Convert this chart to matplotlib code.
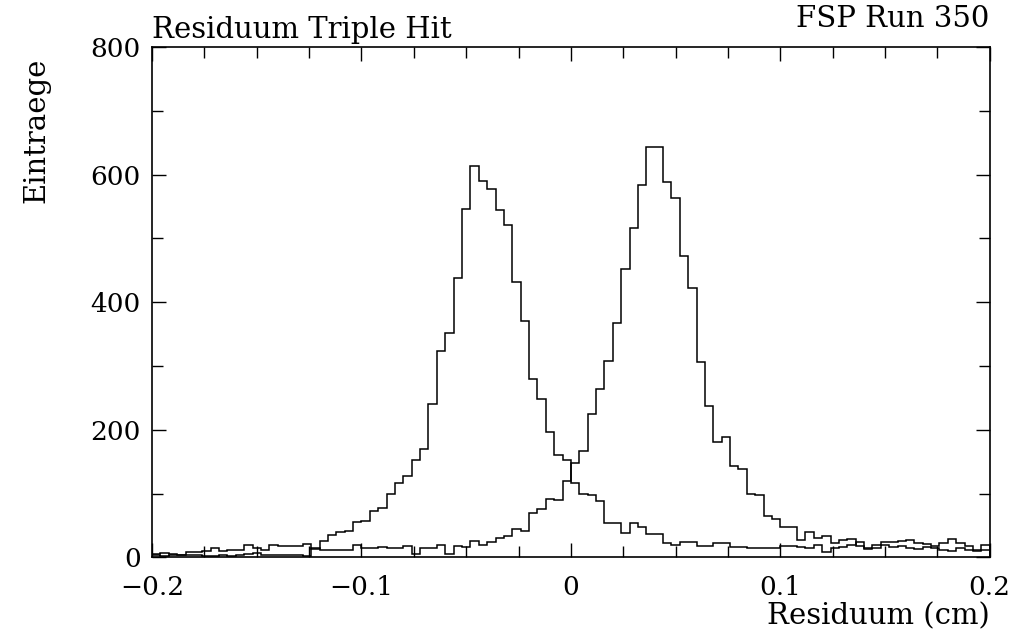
import numpy as np
import matplotlib

matplotlib.use("Agg")
import matplotlib.pyplot as plt
from matplotlib.ticker import MultipleLocator

# ── Data: 100 bins of width 0.004 cm between -0.2 and 0.2 ──────────
x_min, x_max, n_bins = -0.2, 0.2, 100

# peak near -0.045 cm
hist_left = [
    5, 6, 5, 4, 8, 9, 10, 14, 10, 12,
    11, 19, 15, 12, 20, 18, 18, 17, 21, 13,
    26, 35, 40, 42, 56, 57, 72, 77, 100, 116,
    127, 152, 170, 240, 324, 352, 438, 547, 614, 590,
    577, 545, 521, 432, 370, 279, 248, 196, 161, 152,
    116, 99, 98, 88, 54, 54, 38, 54, 47, 36,
    36, 23, 20, 24, 24, 17, 17, 23, 23, 16,
    16, 15, 14, 14, 14, 17, 18, 16, 15, 20,
    8, 14, 16, 20, 24, 14, 20, 24, 24, 25,
    27, 22, 21, 18, 22, 28, 23, 18, 12, 20,
]

# peak near +0.040 cm
hist_right = [
    3, 2, 3, 4, 4, 3, 2, 2, 3, 2,
    3, 5, 6, 3, 4, 3, 4, 4, 2, 14,
    12, 12, 12, 11, 20, 14, 14, 16, 15, 15,
    18, 5, 15, 15, 19, 5, 18, 16, 25, 19,
    24, 31, 33, 45, 42, 69, 76, 91, 90, 120,
    148, 167, 224, 264, 308, 367, 452, 516, 584, 644,
    644, 588, 564, 472, 422, 306, 238, 181, 188, 143,
    139, 99, 98, 64, 60, 47, 47, 27, 39, 30,
    33, 23, 27, 28, 18, 13, 15, 20, 16, 18,
    15, 13, 16, 14, 12, 10, 14, 12, 10, 12,
]

xtick_values = [-0.2, -0.1, 0.0, 0.1, 0.2]
xtick_labels = ["\u22120.2", "\u22120.1", "0", "0.1", "0.2"]
ytick_values = [0, 200, 400, 600, 800]
ytick_labels = ["0", "200", "400", "600", "800"]

FONT = "DejaVu Serif"
FS_TICK = 19
FS_TEXT = 21

plt.rcParams["font.family"] = FONT

fig = plt.figure(figsize=(10.14, 6.29), dpi=100)
ax = fig.add_axes([0.150, 0.114, 0.826, 0.811])

edges = np.linspace(x_min, x_max, n_bins + 1)
ax.stairs(hist_left, edges, color="black", lw=1.1)
ax.stairs(hist_right, edges, color="black", lw=1.1)

ax.set_xlim(x_min, x_max)
ax.set_ylim(0, 800)

ax.set_xticks(xtick_values)
ax.set_xticklabels(xtick_labels)
ax.set_yticks(ytick_values)
ax.set_yticklabels(ytick_labels)
ax.xaxis.set_minor_locator(MultipleLocator(0.025))
ax.yaxis.set_minor_locator(MultipleLocator(100))

ax.tick_params(which="both", direction="in", top=True, right=True,
               width=1.0, labelsize=FS_TICK)
ax.tick_params(which="major", length=10)
ax.tick_params(which="minor", length=8)
ax.tick_params(axis="x", which="major", pad=13)
ax.tick_params(axis="y", which="major", pad=8)
for sp in ax.spines.values():
    sp.set_linewidth(1.2)

ax.text(0.0, 1.006, "Residuum Triple Hit", transform=ax.transAxes,
        ha="left", va="bottom", fontsize=FS_TEXT)
ax.text(1.0, 1.028, "FSP Run 350", transform=ax.transAxes,
        ha="right", va="bottom", fontsize=FS_TEXT)
ax.text(1.0, -0.088, "Residuum (cm)", transform=ax.transAxes,
        ha="right", va="top", fontsize=FS_TEXT)
ax.text(-0.155, 0.98, "Eintraege", transform=ax.transAxes,
        ha="left", va="top", rotation=90, fontsize=FS_TEXT)

fig.savefig("out.png", dpi=100)
